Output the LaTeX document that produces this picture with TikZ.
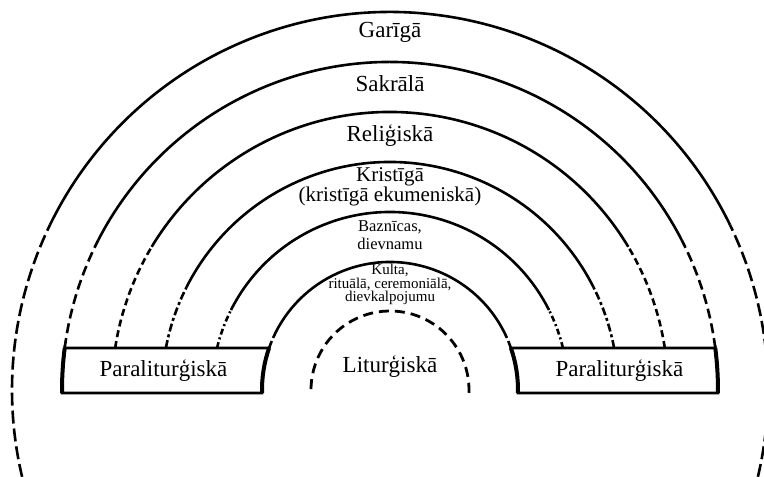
\documentclass[tikz,border=0pt]{standalone}
\usepackage{fontspec}
\setmainfont{Liberation Serif}
\tikzset{
  ring/.style={line width=2.6pt}, % solid top of each half circle
  dashA/.style={ring, dash pattern=on 13pt off 5pt},
  dashB/.style={ring, dash pattern=on 10pt off 5pt},
  dashC/.style={ring, dash pattern=on 7pt off 4pt},
  dashD/.style={ring, dash pattern=on 8pt off 3pt on 3pt off 3pt},
  dashE/.style={ring, dash pattern=on 6pt off 3pt on 2pt off 3pt},
  inner/.style={line width=2.8pt, dash pattern=on 10pt off 6pt}, % the innermost ring
  parabox/.style={line width=2.8pt},
  paraside/.style={line width=4pt}, % curved ends of the boxes
  txtbig/.style={font=\fontsize{23}{26}\selectfont, inner sep=0pt, anchor=base},
  txtmid/.style={font=\fontsize{21}{19}\selectfont, inner sep=0pt, anchor=base, align=center},
  txtsmall/.style={font=\fontsize{16.5}{18}\selectfont, inner sep=0pt, anchor=base, align=center},
  txtkulta/.style={font=\fontsize{15}{12}\selectfont, inner sep=0pt, anchor=base, align=center},
}
\begin{document}
\begin{tikzpicture}[x=10pt, y=10pt]
  \clip (-39,-8.7) rectangle (37.4,39);
  % Garīgā
  \draw[ring] (25.9:37.8) arc[start angle=25.9, end angle=154.1, radius=37.8];
  \draw[dashA] (-16:37.8) arc[start angle=-16, end angle=25.9, radius=37.8];
  \draw[dashA] (196:37.8) arc[start angle=196, end angle=154.1, radius=37.8];
  % Sakrālā
  \draw[ring] (27.2:32.8) arc[start angle=27.2, end angle=152.8, radius=32.8];
  \draw[dashB] (7.36:32.8) arc[start angle=7.36, end angle=27.2, radius=32.8];
  \draw[dashB] (172.64:32.8) arc[start angle=172.64, end angle=152.8, radius=32.8];
  % Reliģiskā
  \draw[ring] (31:27.8) arc[start angle=31, end angle=149, radius=27.8];
  \draw[dashC] (8.69:27.8) arc[start angle=8.69, end angle=31, radius=27.8];
  \draw[dashC] (171.31:27.8) arc[start angle=171.31, end angle=149, radius=27.8];
  % Kristīgā
  \draw[ring] (26.8:22.8) arc[start angle=26.8, end angle=153.2, radius=22.8];
  \draw[dashD] (10.61:22.8) arc[start angle=10.61, end angle=26.8, radius=22.8];
  \draw[dashD] (169.39:22.8) arc[start angle=169.39, end angle=153.2, radius=22.8];
  % Baznīcas
  \draw[ring] (26.7:17.8) arc[start angle=26.7, end angle=153.3, radius=17.8];
  \draw[dashE] (13.65:17.8) arc[start angle=13.65, end angle=26.7, radius=17.8];
  \draw[dashE] (166.35:17.8) arc[start angle=166.35, end angle=153.3, radius=17.8];
  % Kulta
  \draw[ring] (24:12.8) arc[start angle=24, end angle=156, radius=12.8];
  \draw[ring] (19.15:12.8) arc[start angle=19.15, end angle=22.5, radius=12.8];
  \draw[ring] (160.85:12.8) arc[start angle=160.85, end angle=157.5, radius=12.8];
  % Liturģiskā
  \draw[inner] (-2:7.9) arc[start angle=-2, end angle=182, radius=7.9];

  % the two boxes
  \draw[parabox] (172.64:32.8) -- (160.85:12.8) arc[start angle=160.85, end angle=181.34, radius=12.8]
    -- (180.52:32.8) arc[start angle=180.52, end angle=172.64, radius=32.8] -- cycle;
  \draw[paraside] (172.64:32.8) arc[start angle=172.64, end angle=180.52, radius=32.8];
  \draw[paraside] (160.85:12.8) arc[start angle=160.85, end angle=181.34, radius=12.8];
  \draw[parabox] (7.36:32.8) -- (19.15:12.8) arc[start angle=19.15, end angle=-1.34, radius=12.8]
    -- (-0.52:32.8) arc[start angle=-0.52, end angle=7.36, radius=32.8] -- cycle;
  \draw[paraside] (7.36:32.8) arc[start angle=7.36, end angle=-0.52, radius=32.8];
  \draw[paraside] (19.15:12.8) arc[start angle=19.15, end angle=-1.34, radius=12.8];

  \node[txtbig] (gariga) at (0,35.2) {Garīgā};
  \node[txtbig] (sakrala) at (0,29.8) {Sakrālā};
  \node[txtbig] (religiska) at (0,24.8) {Reliģiskā};
  \node[txtmid] (kristiga) at (0,18.8) {Kristīgā\\(kristīgā ekumeniskā)};
  \node[txtsmall] (baznicas) at (0,14.0) {Baznīcas,\\dievnamu};
  \node[txtkulta] (kulta) at (0,8.8) {Kulta,\\rituālā, ceremoniālā,\\dievkalpojumu};
  \node[txtbig] (liturgiska) at (0,1.7) {Liturģiskā};
  \node[txtbig] (paraleft) at (-22.65,1.3) {Paraliturģiskā};
  \node[txtbig] (pararight) at (22.95,1.3) {Paraliturģiskā};
\end{tikzpicture}
\end{document}
